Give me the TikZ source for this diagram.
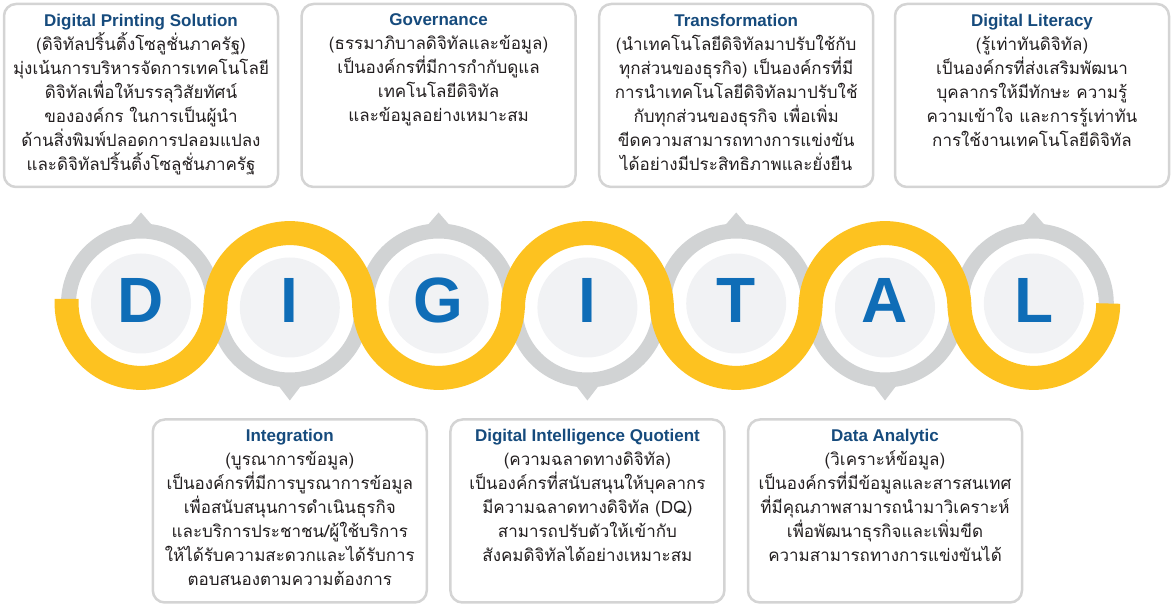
\documentclass[tikz,border=0pt]{standalone}
\usepackage{fontspec}
\setmainfont{Liberation Sans}
\newfontfamily\thaifont[Script=Thai]{Loma}
\usepackage{tikz}
\usetikzlibrary{positioning, calc}
\definecolor{ringgray}{RGB}{209, 211, 212}
\definecolor{discgray}{RGB}{241, 242, 244}
\definecolor{bandyellow}{RGB}{253, 194, 32}
\definecolor{lettercolor}{RGB}{15, 109, 183}
\definecolor{titlecolor}{RGB}{22, 75, 125}
\definecolor{textcolor}{RGB}{35, 31, 32}
\definecolor{boxborder}{RGB}{212, 212, 212}
\newcommand{\boxtitle}[1]{{\rmfamily\bfseries\fontsize{17}{24}\selectfont\color{titlecolor}#1}}

\begin{document}
\begin{tikzpicture}[
    x=1pt, y=1pt,
    ring/.style={circle, draw=ringgray, line width=15pt, minimum size=145pt, inner sep=0pt},
    disc/.style={circle, fill=discgray, minimum size=100pt, inner sep=0pt},
    letter/.style={font=\fontsize{64}{64}\selectfont\bfseries, text=lettercolor, inner sep=0pt},
    band/.style={draw=bandyellow, line width=24pt},
    infobox/.style={draw=boxborder, line width=2.5pt, rounded corners=12pt, fill=white, minimum width=274pt, minimum height=183pt, inner sep=0pt},
    info/.style={align=center, anchor=north, inner sep=0pt, text=textcolor, font=\thaifont\fontsize{17}{24}\selectfont},
]
    \useasboundingbox (0, 0) rectangle (1171, 605);

    % Rings
    \node[ring] (ring-d) at (141, 301.5) {};
    \node[ring] (ring-i1) at (289.8, 297.5) {};
    \node[ring] (ring-g) at (438.6, 301.5) {};
    \node[ring] (ring-i2) at (587.4, 297.5) {};
    \node[ring] (ring-t) at (736.2, 301.5) {};
    \node[ring] (ring-a) at (885, 297.5) {};
    \node[ring] (ring-l) at (1033.8, 301.5) {};

    % Pointers
    \fill[ringgray] ($(ring-d.center)+(-13, 76)$) -- ++(13, 15) -- ++(13, -15) -- cycle;
    \fill[ringgray] ($(ring-i1.center)+(-13, -76)$) -- ++(13, -17) -- ++(13, 17) -- cycle;
    \fill[ringgray] ($(ring-g.center)+(-13, 76)$) -- ++(13, 15) -- ++(13, -15) -- cycle;
    \fill[ringgray] ($(ring-i2.center)+(-13, -76)$) -- ++(13, -17) -- ++(13, 17) -- cycle;
    \fill[ringgray] ($(ring-t.center)+(-13, 76)$) -- ++(13, 15) -- ++(13, -15) -- cycle;
    \fill[ringgray] ($(ring-a.center)+(-13, -76)$) -- ++(13, -17) -- ++(13, 17) -- cycle;
    \fill[ringgray] ($(ring-l.center)+(-13, 76)$) -- ++(13, 15) -- ++(13, -15) -- cycle;

    % Discs
    \node[disc] (disc-d) at (ring-d) {};
    \node[disc] (disc-i1) at (ring-i1) {};
    \node[disc] (disc-g) at (ring-g) {};
    \node[disc] (disc-i2) at (ring-i2) {};
    \node[disc] (disc-t) at (ring-t) {};
    \node[disc] (disc-a) at (ring-a) {};
    \node[disc] (disc-l) at (ring-l) {};

    % Letters
    \node[letter] (d) at (141, 305) {D};
    \node[letter] (i1) at (289.8, 305) {I};
    \node[letter] (g) at (438.6, 305) {G};
    \node[letter] (i2) at (587.4, 305) {I};
    \node[letter] (t) at (736.2, 305) {T};
    \node[letter] (a) at (885, 305) {A};
    \node[letter] (l) at (1033.8, 305) {L};

    % Yellow band
    \draw[band] ($(ring-d.center)+(-74.4, 4.5)$) -- ++(0, -4.5)
        arc[start angle=180, end angle=360, radius=74.4]
        -- ($(ring-i1.center)+(-74.4, 0)$) arc[start angle=180, end angle=0, radius=74.4]
        -- ($(ring-g.center)+(-74.4, 0)$) arc[start angle=180, end angle=360, radius=74.4]
        -- ($(ring-i2.center)+(-74.4, 0)$) arc[start angle=180, end angle=0, radius=74.4]
        -- ($(ring-t.center)+(-74.4, 0)$) arc[start angle=180, end angle=360, radius=74.4]
        -- ($(ring-a.center)+(-74.4, 0)$) arc[start angle=180, end angle=0, radius=74.4]
        -- ($(ring-l.center)+(-74.4, 0)$) arc[start angle=180, end angle=360, radius=74.4];

    % Top boxes
    \node[infobox] (box-d) at (141, 509.5) {};
    \node[info] (txt-d) at ([yshift=-11pt]box-d.north) {\boxtitle{Digital Printing Solution}\\
        (ดิจิทัลปริ้นติ้งโซลูชั่นภาครัฐ)\\
        มุ่งเน้นการบริหารจัดการเทคโนโลยี\\
        ดิจิทัลเพื่อให้บรรลุวิสัยทัศน์\\
        ขององค์กร ในการเป็นผู้นำ\\
        ด้านสิ่งพิมพ์ปลอดการปลอมแปลง\\
        และดิจิทัลปริ้นติ้งโซลูชั่นภาครัฐ};

    \node[infobox] (box-g) at (438.6, 509.5) {};
    \node[info] (txt-g) at ([yshift=-11pt]box-g.north) {\boxtitle{Governance}\\
        (ธรรมาภิบาลดิจิทัลและข้อมูล)\\
        เป็นองค์กรที่มีการกำกับดูแล\\
        เทคโนโลยีดิจิทัล\\
        และข้อมูลอย่างเหมาะสม};

    \node[infobox] (box-t) at (736.2, 509.5) {};
    \node[info] (txt-t) at ([yshift=-11pt]box-t.north) {\boxtitle{Transformation}\\
        (นำเทคโนโลยีดิจิทัลมาปรับใช้กับ\\
        ทุกส่วนของธุรกิจ) เป็นองค์กรที่มี\\
        การนำเทคโนโลยีดิจิทัลมาปรับใช้\\
        กับทุกส่วนของธุรกิจ เพื่อเพิ่ม\\
        ขีดความสามารถทางการแข่งขัน\\
        ได้อย่างมีประสิทธิภาพและยั่งยืน};

    \node[infobox] (box-l) at (1032, 509.5) {};
    \node[info] (txt-l) at ([yshift=-11pt]box-l.north) {\boxtitle{Digital Literacy}\\
        (รู้เท่าทันดิจิทัล)\\
        เป็นองค์กรที่ส่งเสริมพัฒนา\\
        บุคลากรให้มีทักษะ ความรู้\\
        ความเข้าใจ และการรู้เท่าทัน\\
        การใช้งานเทคโนโลยีดิจิทัล};

    % Bottom boxes
    \node[infobox] (box-i1) at (289.8, 94) {};
    \node[info] (txt-i1) at ([yshift=-11pt]box-i1.north) {\boxtitle{Integration}\\
        (บูรณาการข้อมูล)\\
        เป็นองค์กรที่มีการบูรณาการข้อมูล\\
        เพื่อสนับสนุนการดำเนินธุรกิจ\\
        และบริการประชาชน/ผู้ใช้บริการ\\
        ให้ได้รับความสะดวกและได้รับการ\\
        ตอบสนองตามความต้องการ};

    \node[infobox] (box-i2) at (587.4, 94) {};
    \node[info] (txt-i2) at ([yshift=-11pt]box-i2.north) {\boxtitle{Digital Intelligence Quotient}\\
        (ความฉลาดทางดิจิทัล)\\
        เป็นองค์กรที่สนับสนุนให้บุคลากร\\
        มีความฉลาดทางดิจิทัล (DQ)\\
        สามารถปรับตัวให้เข้ากับ\\
        สังคมดิจิทัลได้อย่างเหมาะสม};

    \node[infobox] (box-a) at (885, 94) {};
    \node[info] (txt-a) at ([yshift=-11pt]box-a.north) {\boxtitle{Data Analytic}\\
        (วิเคราะห์ข้อมูล)\\
        เป็นองค์กรที่มีข้อมูลและสารสนเทศ\\
        ที่มีคุณภาพสามารถนำมาวิเคราะห์\\
        เพื่อพัฒนาธุรกิจและเพิ่มขีด\\
        ความสามารถทางการแข่งขันได้};

\end{tikzpicture}
\end{document}
